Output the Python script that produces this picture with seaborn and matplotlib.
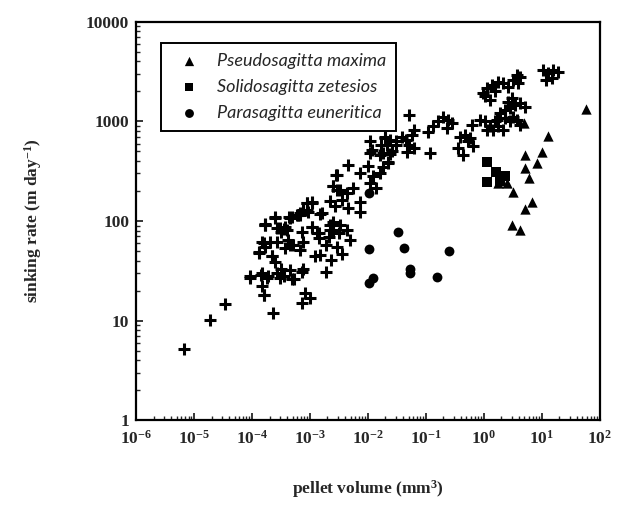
import matplotlib
matplotlib.use("Agg")
import matplotlib.pyplot as plt
import numpy as np
import pandas as pd
import seaborn as sns
from matplotlib.ticker import LogLocator, FixedLocator, NullFormatter

# fecal pellets of unidentified / other chaetognaths (plus signs)
plus_x = [
    0.011, 0.016, 0.024, 0.047, 4.6e-3, 7.2e-3, 0.010, 0.012, 0.016, 0.022, 0.011, 0.014,
    2.9e-3, 2.5e-3, 3.3e-3, 4.3e-3, 5.6e-3, 3.5e-3, 4.6e-3, 7.2e-3, 7.2e-3,
    8.7e-4, 1.1e-3, 1.6e-3, 2.5e-4, 4.5e-4, 6.3e-4, 1.7e-4, 3.0e-4, 4.0e-4, 7.2e-4,
    1.07e-3, 1.3e-3, 2.2e-3, 3.1e-3, 4.3e-3, 2.5e-3, 3.3e-3, 4.9e-3, 1.9e-3, 2.9e-3,
    1.5e-3, 2.3e-3, 3.5e-3, 1.5e-4, 1.3e-4, 1.7e-4, 2.2e-4, 2.7e-4, 3.7e-4, 5.1e-4,
    6.7e-4, 7.6e-4, 1.2e-3, 9.2e-5, 1.4e-4, 1.9e-4, 2.7e-4, 3.5e-4, 4.8e-4, 7.6e-4,
    1.9e-3, 1.5e-4, 1.6e-4, 8.2e-4, 1.0e-3, 7.2e-4, 2.3e-4, 3.4e-5, 1.9e-5, 6.6e-6,
    4.4e-4, 5.9e-4, 6.7e-4, 8.7e-4, 1.7e-4, 3.7e-4, 3.2e-4, 1.6e-4, 2.0e-4, 4.2e-4,
    4.5e-4, 1.3e-4, 2.2e-4, 2.5e-4, 3.2e-4, 4.5e-4, 7.2e-4, 9.2e-5, 1.5e-4, 1.8e-4,
    3.0e-4, 5.2e-4, 1.6e-4,
    2.8e-3, 2.5e-3, 2.9e-3, 2.2e-3, 2.7e-3, 1.07e-3, 1.5e-3, 1.07e-3, 1.4e-3, 1.4e-3,
    2.2e-3, 2.5e-3, 2.1e-3, 8.8e-4, 7.7e-4, 9.4e-4, 6.7e-4, 4.8e-4, 2.5e-4, 1.7e-4,
    2.7e-4, 3.5e-4,
    0.052, 0.061, 0.057, 0.046, 0.050, 0.061, 0.038, 0.031, 0.024, 0.020, 0.021, 0.026,
    0.018, 0.022, 0.018, 0.110, 0.134, 0.163, 0.199, 0.243, 0.277, 0.227, 0.117, 0.386,
    0.471, 0.574, 0.537, 0.655, 0.361, 0.440, 0.612, 0.853, 1.04, 1.27, 1.11, 1.55,
    1.77, 2.15, 2.30, 2.81, 3.2, 3.66, 4.2, 1.89, 2.30, 2.81, 3.4, 4.2, 5.1, 2.63,
    3.0, 0.975, 1.11, 1.36, 1.55, 1.77, 2.15, 2.63, 3.2, 3.9, 4.2, 3.66, 10.5, 12.9,
    15.7, 19.1, 12.0, 14.7, 1.27, 1.04, 1.65, 1.45,
    0.031, 0.020, 0.017, 0.0108, 0.0116,
]
plus_y = [
    480, 460, 470, 490, 365, 300, 355, 280, 300, 380, 240, 215,
    290, 222, 205, 190, 215, 163, 135, 156, 123,
    150, 156, 120, 107, 107, 115, 92, 85, 82, 78,
    88, 75, 82, 75, 82, 98, 91, 64, 57, 55,
    46, 41, 47, 62, 49, 55, 44, 62, 53, 57,
    51, 62, 44, 28, 29, 28, 30, 28, 26, 33,
    31, 22, 18, 19, 17, 15, 12, 14.5, 10.2, 5.2,
    110, 115, 120, 130, 91, 88, 78, 60, 62, 65,
    58, 48, 44, 39, 33, 32, 31, 27, 30, 27,
    27, 26, 18,
    290, 225, 205, 160, 140, 150, 118, 87, 76, 68,
    91, 81, 69, 150, 129, 124, 115, 109, 109, 94,
    86, 84,
    1160, 820, 730, 650, 580, 540, 700, 630, 650, 680, 580, 500,
    480, 395, 350, 790, 890, 1000, 1120, 1040, 960, 850, 480, 700,
    730, 680, 630, 560, 540, 460, 920, 1040, 1000, 890, 820, 1000,
    890, 820, 1080, 1000, 1120, 1040, 920, 1210, 1300, 1360, 1470, 1520, 1390, 1580,
    1710, 1920, 2150, 2330, 2000, 2510, 2420, 2240, 2610, 2420, 2820, 2930, 3290, 3050,
    3290, 3170, 2610, 2720, 1640, 1780, 1040, 820,
    580, 700, 580, 630, 520,
]

# Pseudosagitta maxima
tri_x = [57, 4.9, 12.9, 5.1, 10.1, 8.1, 5.1, 6.0, 3.2, 6.8, 5.2, 3.0, 4.2, 1.77, 2.46]
tri_y = [1320, 960, 720, 460, 490, 380, 343, 272, 197, 156, 131, 91, 82, 243, 239]

# Solidosagitta zetesios
sq_x = [1.14, 1.59, 1.14, 2.30, 1.90]
sq_y = [395, 308, 245, 283, 250]

# Parasagitta euneritica
circ_x = [0.0103, 0.0124, 0.0103, 0.033, 0.041, 0.053, 0.053, 0.157, 0.25, 0.0103]
circ_y = [52, 27, 24, 78, 54, 33, 30, 27.5, 50, 190]

x_tick_vals = [1e-6, 1e-5, 1e-4, 1e-3, 1e-2, 1e-1, 1e0, 1e1, 1e2]
x_tick_labels = [r"$10^{-6}$", r"$10^{-5}$", r"$10^{-4}$", r"$10^{-3}$", r"$10^{-2}$",
                 r"$10^{-1}$", r"$10^{0}$", r"$10^{1}$", r"$10^{2}$"]
y_tick_vals = [1, 10, 100, 1000, 10000]
y_tick_labels = ["1", "10", "100", "1000", "10000"]

sns.set_style("ticks")
plt.rcParams["font.family"] = ["Liberation Serif", "DejaVu Serif"]
plt.rcParams["mathtext.fontset"] = "custom"
plt.rcParams["mathtext.rm"] = "Liberation Serif:bold"
plt.rcParams["mathtext.it"] = "Liberation Serif:bold"
plt.rcParams["mathtext.bf"] = "Liberation Serif:bold"
plt.rcParams["mathtext.default"] = "rm"

fig = plt.figure(figsize=(6.19, 5.08), dpi=100)
ax = fig.add_axes([0.22, 0.173, 0.749, 0.784])

sns.scatterplot(x=plus_x, y=plus_y, marker="+", s=70, color="black",
                linewidth=2.2, ax=ax, legend=False)
sns.scatterplot(x=tri_x, y=tri_y, marker="^", s=55, color="black",
                edgecolor="black", linewidth=0, ax=ax, label="Pseudosagitta maxima")
sns.scatterplot(x=sq_x, y=sq_y, marker="s", s=50, color="black",
                edgecolor="black", linewidth=0, ax=ax, label="Solidosagitta zetesios")
sns.scatterplot(x=circ_x, y=circ_y, marker="o", s=50, color="black",
                edgecolor="black", linewidth=0, ax=ax, label="Parasagitta euneritica")

ax.set_xscale("log")
ax.set_yscale("log")
ax.set_xlim(1e-6, 1e2)
ax.set_ylim(1, 1e4)

ax.xaxis.set_major_locator(FixedLocator(x_tick_vals))
ax.set_xticklabels(x_tick_labels, fontsize=12.5)
ax.yaxis.set_major_locator(FixedLocator(y_tick_vals))
ax.set_yticklabels(y_tick_labels, fontsize=12.5, fontweight="bold")
ax.xaxis.set_minor_locator(LogLocator(base=10, subs=np.arange(2, 10), numticks=20))
ax.yaxis.set_minor_locator(LogLocator(base=10, subs=np.arange(2, 10), numticks=20))
ax.xaxis.set_minor_formatter(NullFormatter())
ax.yaxis.set_minor_formatter(NullFormatter())
ax.tick_params(which="major", direction="in", length=5, width=1.3)
ax.tick_params(axis="x", which="major", pad=7)
ax.tick_params(axis="y", which="major", pad=5)
ax.tick_params(which="minor", direction="in", length=3, width=1.0)

for side in ax.spines.values():
    side.set_linewidth(1.6)
    side.set_color("black")

ax.set_xlabel(r"pellet volume (mm$^3$)", fontsize=12.5, fontweight="bold", labelpad=22)
ax.set_ylabel(r"sinking rate (m day$^{-1}$)", fontsize=12.5, fontweight="bold", labelpad=30)

leg = ax.legend(loc="upper left", bbox_to_anchor=(0.035, 0.97), frameon=True,
                fancybox=False, edgecolor="black", framealpha=1, borderpad=0.55,
                handletextpad=0.5, labelspacing=0.55, markerscale=0.9,
                prop={"family": "Lato", "style": "italic", "size": 13})
leg.get_frame().set_linewidth(1.4)

fig.savefig("out.png", dpi=100)
